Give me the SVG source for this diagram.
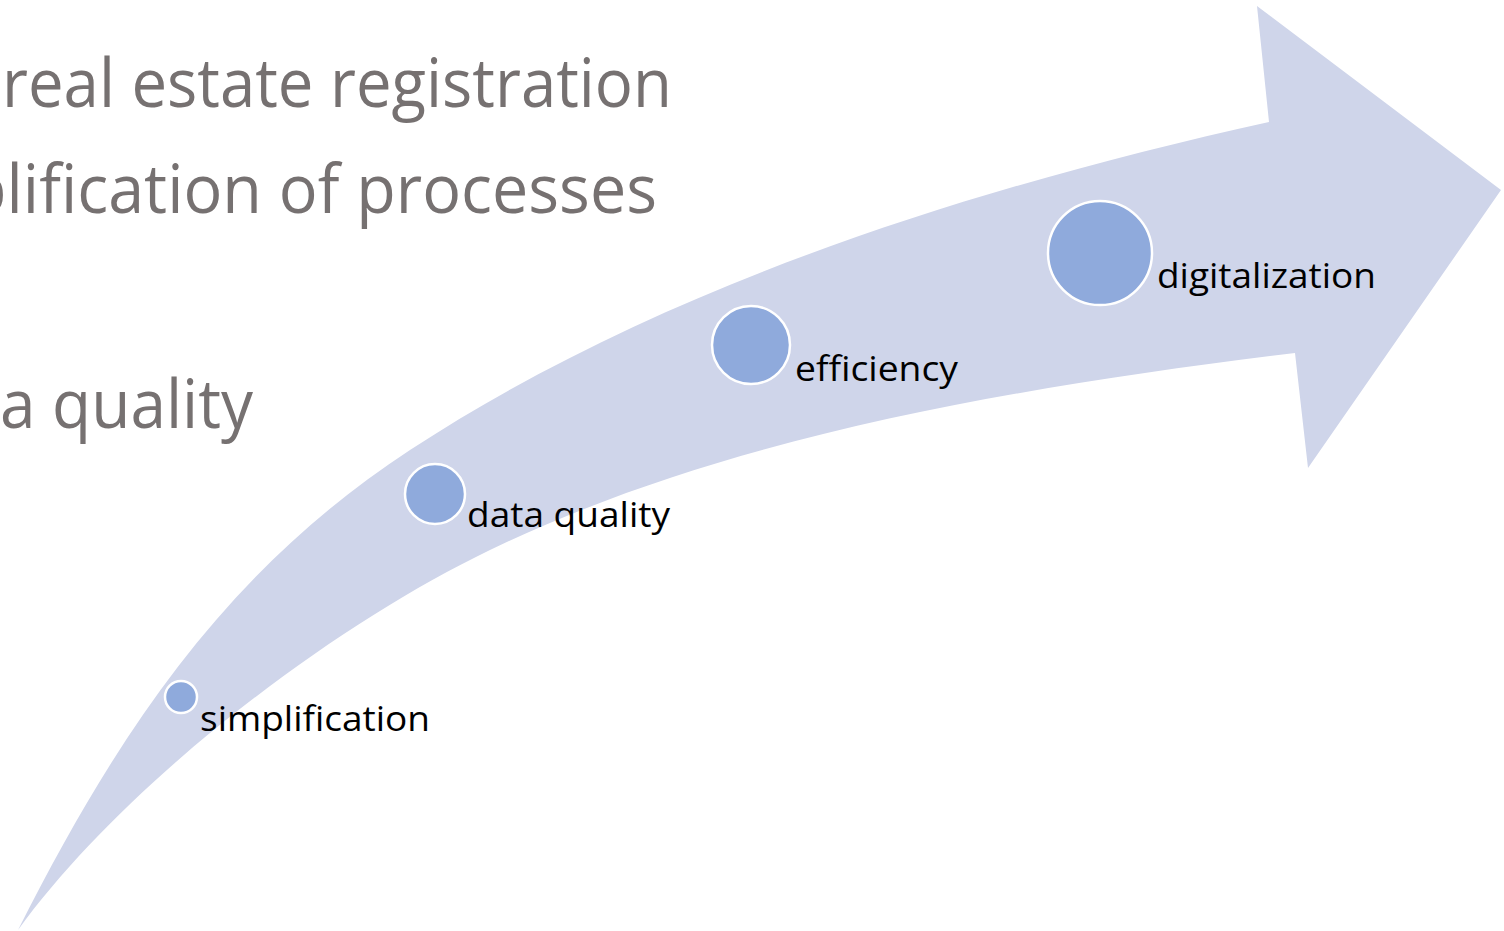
<svg xmlns="http://www.w3.org/2000/svg" width="1504" height="931" viewBox="0 0 1504 931">
<style>
.bg{font-family:"Open Sans","Liberation Sans",sans-serif;font-size:68px;fill:#767171}
.lbl{font-family:"Open Sans","Liberation Sans",sans-serif;font-size:35px;fill:#000}
.dot{fill:#8FAADC;stroke:#fff;stroke-width:2.5}
</style>
<rect width="1504" height="931" fill="#fff"/>
<g id="background-text">
<text class="bg" x="2" y="107" textLength="670" lengthAdjust="spacingAndGlyphs">real estate registration</text>
<text class="bg" x="-33" y="213" textLength="690" lengthAdjust="spacingAndGlyphs">plification of processes</text>
<text class="bg" x="0" y="428" textLength="253" lengthAdjust="spacingAndGlyphs">a quality</text>
</g>
<g id="arrow">
<path fill="#CFD5EA" d="M18,930 C117,734 225,571 410,450 C662,285 976,187 1269,122 L1257,6 L1501,190 L1308,468 L1295,353 C1027,386 733,433 490,550 C328,628 124,784 18,930 Z"/>
</g>
<g id="connectors"></g>
<g id="node-simplification">
<circle class="dot" cx="181" cy="697" r="16"/>
<text class="lbl" x="200" y="731" textLength="230" lengthAdjust="spacingAndGlyphs">simplification</text>
</g>
<g id="node-data-quality">
<circle class="dot" cx="435" cy="494" r="30"/>
<text class="lbl" x="467" y="527" textLength="203" lengthAdjust="spacingAndGlyphs">data quality</text>
</g>
<g id="node-efficiency">
<circle class="dot" cx="751" cy="345" r="39"/>
<text class="lbl" x="795" y="381" textLength="163" lengthAdjust="spacingAndGlyphs">efficiency</text>
</g>
<g id="node-digitalization">
<circle class="dot" cx="1100" cy="253" r="52"/>
<text class="lbl" x="1157" y="288" textLength="219" lengthAdjust="spacingAndGlyphs">digitalization</text>
</g>
</svg>
